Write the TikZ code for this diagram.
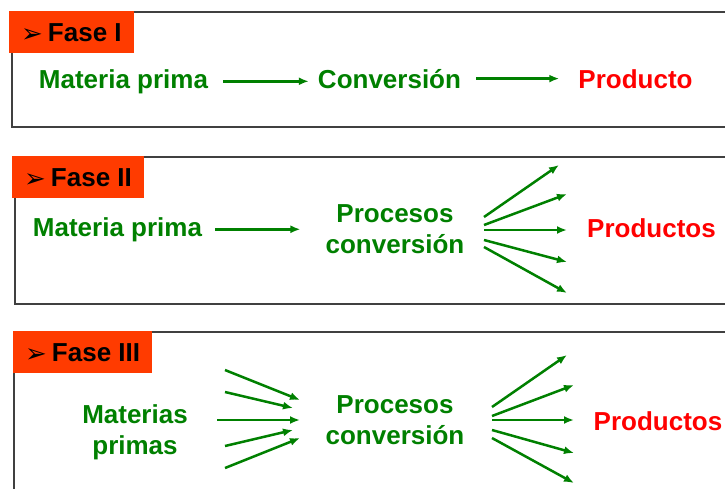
\documentclass[tikz,border=0pt]{standalone}
\usepackage{fontspec}
\setmainfont{Liberation Sans}
\newfontfamily\dingfont{DejaVu Sans}
\usetikzlibrary{positioning}
\usetikzlibrary{arrows.meta}

\definecolor{fasered}{RGB}{255,59,0}
\definecolor{flowgreen}{RGB}{0,128,0}
\definecolor{prodred}{RGB}{255,0,0}

\tikzset{
    panel/.style = {draw = black!75, line width = 1.5pt, anchor = north west, inner sep = 0pt},
    fase/.style  = {fill = fasered, anchor = north west, inner xsep = 12pt, inner ysep = 0pt,
                    minimum height = 42pt, text height = 19pt, text depth = 0pt,
                    font = \fontsize{26}{31}\selectfont\bfseries},
    stuff/.style = {text = flowgreen, inner sep = 0pt, align = center,
                    font = \fontsize{26}{31}\selectfont\bfseries},
    prod/.style  = {text = prodred, inner sep = 0pt, anchor = base,
                    font = \fontsize{26}{31}\selectfont\bfseries},
    flow/.style  = {draw = flowgreen, line width = 2.5pt, -{Latex[length = 10pt, width = 8pt]}}
}

\newcommand{\faselabel}[1]{{\dingfont\fontsize{26}{26}\selectfont\raisebox{-1pt}{➢}}\hspace{5pt}#1}

\begin{document}
\begin{tikzpicture}[x = 1pt, y = -1pt]

    \useasboundingbox (0,0) rectangle (725,488);
    \clip (0,0) rectangle (725,488);

    % Fase I
    \node (box1) [panel, minimum width = 729pt, minimum height = 115pt] at (11,11) {};
    \node (fase1) [fase] at ([xshift = -2pt]box1.north west) {\faselabel{Fase I}};

    \node (mat1)  [stuff, anchor = base] at (123.5,88) {Materia prima};
    \node (conv1) [stuff, anchor = base] at (389.5,88) {Conversión};
    \node (prod1) [prod] at (635.5,88) {Producto};

    \draw[flow, shorten <= 15pt, shorten >= 9pt] (mat1.east) -- (mat1.east -| conv1.west);
    \draw[flow, shorten <= 15pt, shorten >= 19pt] (conv1.east) -- (conv1.east -| prod1.west);

    % Fase II
    \node (box2) [panel, minimum width = 726pt, minimum height = 147pt] at (14,156) {};
    \node (fase2) [fase] at ([xshift = -2pt]box2.north west) {\faselabel{Fase II}};

    \node (mat2)  [stuff, anchor = base] at (117.5,236) {Materia prima};
    \node (proc2) [stuff] at (395,229.5) {Procesos\\conversión};
    \node (prod2) [prod] at (651.5,237) {Productos};

    \draw[flow, shorten <= 13pt, shorten >= 25pt] (mat2.east) -- (mat2.east -| proc2.west);

    \foreach \n/\sy/\tx/\ty in {1/217/559/165, 2/225/567/194, 3/230/567/230, 4/240/567/262, 5/247/567/293}{
        \coordinate (f2s\n) at (484,\sy);
        \coordinate (f2t\n) at (\tx,\ty);
        \draw[flow] (f2s\n) -- (f2t\n);
    }

    % Fase III
    \node (box3) [panel, minimum width = 727pt, minimum height = 180pt] at (13,331) {};
    \node (fase3) [fase] at (box3.north west) {\faselabel{Fase III}};

    \node (mat3)  [stuff] at (135,432.5) {Materias\\primas};
    \node (proc3) [stuff] at (395,420) {Procesos\\conversión};
    \node (prod3) [prod] at (658,430) {Productos};

    \foreach \n/\sx/\sy/\tx/\ty in {1/225/370/300/400, 2/225/392/293/408, 3/217/420/300/420, 4/225/446/293/430, 5/225/468/300/438}{
        \coordinate (f3s\n) at (\sx,\sy);
        \coordinate (f3t\n) at (\tx,\ty);
        \draw[flow] (f3s\n) -- (f3t\n);
    }

    \foreach \n/\sy/\tx/\ty in {1/407/567/355, 2/416/574/385, 3/420/574/420, 4/430/574/453, 5/438/574/483}{
        \coordinate (f4s\n) at (492,\sy);
        \coordinate (f4t\n) at (\tx,\ty);
        \draw[flow] (f4s\n) -- (f4t\n);
    }

\end{tikzpicture}
\end{document}
